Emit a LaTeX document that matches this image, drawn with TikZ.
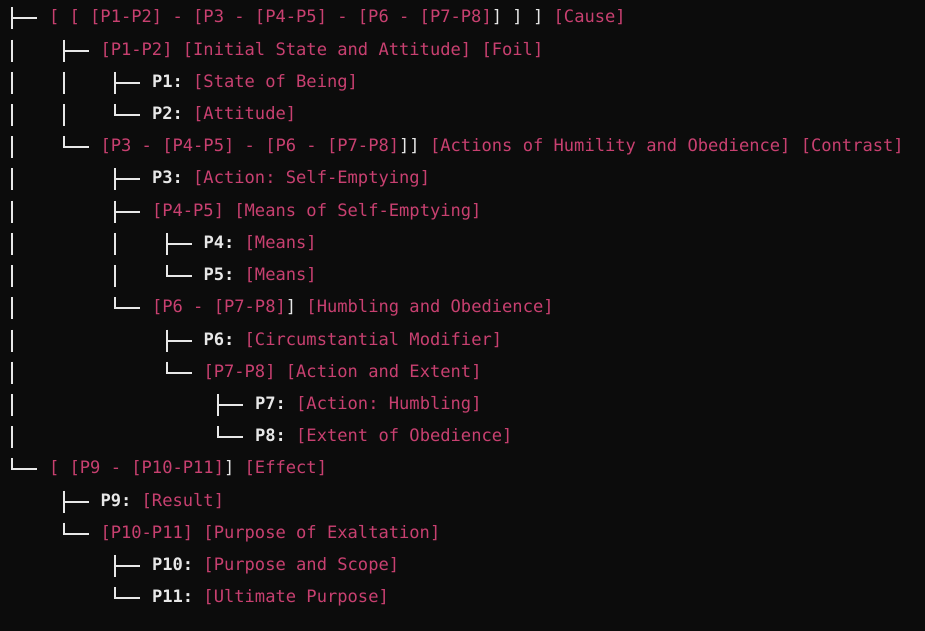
\documentclass[tikz,border=0pt]{standalone}
\usepackage{fontspec}
\newfontfamily\codefont{DejaVu Sans Mono}
\definecolor{bgc}{RGB}{12,12,12}
\definecolor{pkc}{RGB}{200,64,112}
\definecolor{wtc}{RGB}{232,232,232}
\newcommand{\pkt}[1]{\textcolor{pkc}{#1}}
\newcommand{\wtt}[1]{\textcolor{wtc}{#1}}
\newcommand{\wtb}[1]{\textcolor{wtc}{\bfseries #1}}
\frenchspacing
\tikzset{
  txt/.style={anchor=base west, inner sep=0pt, outer sep=0pt,
    font=\codefont\fontsize{12.83pt}{15pt}\selectfont\frenchspacing, text=pkc},
  treeline/.style={draw=wtc, line width=1.5pt}
}
\newcommand{\tline}[4]{\node[txt] (#1) at ({49+51.5*#2},{23+32.2*#3}) {#4};}
\begin{document}
\begin{tikzpicture}[x=0.75pt,y=-0.75pt]
\fill[bgc] (0,0) rectangle (925,631);
\useasboundingbox (0,0) rectangle (925,631);
% tee glyphs
\foreach \l/\r in {0/0,1/1,2/2,2/5,2/6,3/7,3/10,4/12,1/15,2/17}{
  \draw[treeline] ({12+51.5*\l},{18.5+32.2*\r-11}) -- ({12+51.5*\l},{18.5+32.2*\r+11})
                  ({12+51.5*\l},{18.5+32.2*\r}) -- ({37+51.5*\l},{18.5+32.2*\r});
}
% ell glyphs
\foreach \l/\r in {2/3,1/4,3/8,2/9,3/11,4/13,0/14,1/16,2/18}{
  \draw[treeline] ({12+51.5*\l},{18.5+32.2*\r-11}) -- ({12+51.5*\l},{18.5+32.2*\r+0.75})
                  ({12+51.5*\l-0.75},{18.5+32.2*\r}) -- ({37+51.5*\l},{18.5+32.2*\r});
}
% vertical bar glyphs
\foreach \l/\r in {0/1,0/2,0/3,0/4,0/5,0/6,0/7,0/8,0/9,0/10,0/11,0/12,0/13,1/2,1/3,2/7,2/8}{
  \draw[treeline] ({12+51.5*\l},{18.5+32.2*\r-11}) -- ({12+51.5*\l},{18.5+32.2*\r+11});
}
% text lines
\tline{t0}{0}{0}{\pkt{[ [ [P1-P2] - [P3 - [P4-P5] - [P6 - [P7-P8]}\wtt{] ] ]} \pkt{[Cause]}}
\tline{t1}{1}{1}{\pkt{[P1-P2] [Initial State and Attitude] [Foil]}}
\tline{t2}{2}{2}{\wtb{P1:} \pkt{[State of Being]}}
\tline{t3}{2}{3}{\wtb{P2:} \pkt{[Attitude]}}
\tline{t4}{1}{4}{\pkt{[P3 - [P4-P5] - [P6 - [P7-P8]}\wtt{]]} \pkt{[Actions of Humility and Obedience] [Contrast]}}
\tline{t5}{2}{5}{\wtb{P3:} \pkt{[Action: Self-Emptying]}}
\tline{t6}{2}{6}{\pkt{[P4-P5] [Means of Self-Emptying]}}
\tline{t7}{3}{7}{\wtb{P4:} \pkt{[Means]}}
\tline{t8}{3}{8}{\wtb{P5:} \pkt{[Means]}}
\tline{t9}{2}{9}{\pkt{[P6 - [P7-P8]}\wtt{]} \pkt{[Humbling and Obedience]}}
\tline{t10}{3}{10}{\wtb{P6:} \pkt{[Circumstantial Modifier]}}
\tline{t11}{3}{11}{\pkt{[P7-P8] [Action and Extent]}}
\tline{t12}{4}{12}{\wtb{P7:} \pkt{[Action: Humbling]}}
\tline{t13}{4}{13}{\wtb{P8:} \pkt{[Extent of Obedience]}}
\tline{t14}{0}{14}{\pkt{[ [P9 - [P10-P11]}\wtt{]} \pkt{[Effect]}}
\tline{t15}{1}{15}{\wtb{P9:} \pkt{[Result]}}
\tline{t16}{1}{16}{\pkt{[P10-P11] [Purpose of Exaltation]}}
\tline{t17}{2}{17}{\wtb{P10:} \pkt{[Purpose and Scope]}}
\tline{t18}{2}{18}{\wtb{P11:} \pkt{[Ultimate Purpose]}}
\end{tikzpicture}
\end{document}
